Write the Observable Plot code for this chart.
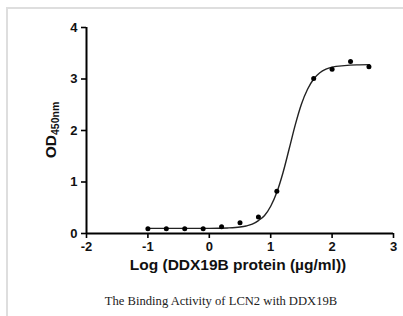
<!DOCTYPE html>
<html>
<head>
<meta charset="utf-8">
<script src="https://cdn.jsdelivr.net/npm/d3@7"></script>
<script src="https://cdn.jsdelivr.net/npm/@observablehq/plot@0.6"></script>
<style>
  body { margin: 0; background: #fff; overflow: hidden; }
  #wrap { position: relative; width: 403px; height: 316px; overflow: hidden; }
  #frame { position: absolute; left: 6px; top: 7px; right: -5px; bottom: -5px;
           border-top: 2px solid #dedede; border-left: 2px solid #dedede; pointer-events: none; }
  #wrap svg { position: absolute; left: 0; top: 0; }
</style>
</head>
<body>
<div id="wrap"><div id="frame"></div></div>
<script>
// Measured points: log concentration vs OD450
const logConc = [-1, -0.7, -0.4, -0.1, 0.2, 0.5, 0.8, 1.1, 1.7, 2.0, 2.3, 2.6];
const od450 = [0.09, 0.09, 0.09, 0.09, 0.13, 0.21, 0.32, 0.82, 3.01, 3.19, 3.34, 3.24];

// Fitted curve
const curveX = [-1, -0.5, 0, 0.3, 0.5, 0.6, 0.7, 0.8, 0.9, 1.0, 1.1, 1.2, 1.3, 1.4, 1.5, 1.6, 1.7, 1.8, 1.9, 2.0, 2.2, 2.4, 2.61];
const curveY = [0.10, 0.10, 0.10, 0.108, 0.125, 0.145, 0.18, 0.25, 0.35, 0.53, 0.80, 1.18, 1.64, 2.11, 2.51, 2.80, 3.00, 3.12, 3.19, 3.23, 3.26, 3.275, 3.28];

const xTicks = [-2, -1, 0, 1, 2, 3];
const yTicks = [0, 1, 2, 3, 4];

const xLabel = "Log (DDX19B protein (\u00b5g/ml))";
const yLabelMain = "OD";
const yLabelSub = "450nm";
const caption = "The Binding Activity of LCN2 with DDX19B";

const points = logConc.map((x, i) => ({x, y: od450[i]}));
const curve = curveX.map((x, i) => ({x, y: curveY[i]}));

const W = 403, H = 316, mL = 86, mR = 10, mT = 27, mB = 83;
const sans = "'Liberation Sans', Arial, Helvetica, sans-serif";

const plot = Plot.plot({
  width: W, height: H,
  marginLeft: mL, marginRight: mR, marginTop: mT, marginBottom: mB,
  x: {domain: [-2, 3]},
  y: {domain: [0, 4]},
  style: {fontFamily: sans, background: "transparent", color: "#000", overflow: "visible"},
  marks: [
    Plot.axisX({ticks: xTicks, tickFormat: d => String(d), tickSize: 5, tickPadding: 3,
                stroke: "#000", strokeWidth: 1.6, fill: "#111", fontSize: 13, fontWeight: "bold", label: null}),
    Plot.axisY({ticks: yTicks, tickFormat: d => String(d), tickSize: 5, tickPadding: 4,
                stroke: "#000", strokeWidth: 1.6, fill: "#111", fontSize: 13, fontWeight: "bold", label: null}),
    Plot.ruleY([0], {stroke: "#000", strokeWidth: 2}),
    Plot.ruleX([-2], {stroke: "#000", strokeWidth: 2}),
    Plot.line(curve, {x: "x", y: "y", curve: "monotone-x", stroke: "#222", strokeWidth: 1.4}),
    Plot.dot(points, {x: "x", y: "y", r: 2.5, fill: "#000", stroke: "none"})
  ]
});

const svg = d3.select(plot);
const plotBottom = H - mB;
const plotMidY = (mT + plotBottom) / 2;

svg.append("text")
  .attr("x", 238).attr("y", plotBottom + 37)
  .attr("text-anchor", "middle")
  .style("font-family", sans).style("font-size", "15.5px").style("font-weight", "bold")
  .attr("fill", "#111")
  .text(xLabel);

const yl = svg.append("text")
  .attr("transform", `translate(56,${plotMidY}) rotate(-90)`)
  .attr("text-anchor", "middle")
  .style("font-family", sans).style("font-weight", "bold")
  .attr("fill", "#111");
yl.append("tspan").style("font-size", "15.5px").text(yLabelMain);
yl.append("tspan").style("font-size", "10.5px").attr("dy", 3).text(yLabelSub);

svg.append("text")
  .attr("x", 221).attr("y", 305)
  .attr("text-anchor", "middle")
  .style("font-family", "'Liberation Serif', 'Times New Roman', serif").style("font-size", "12.6px")
  .attr("fill", "#222")
  .text(caption);

document.getElementById("wrap").appendChild(plot);
</script>
</body>
</html>
